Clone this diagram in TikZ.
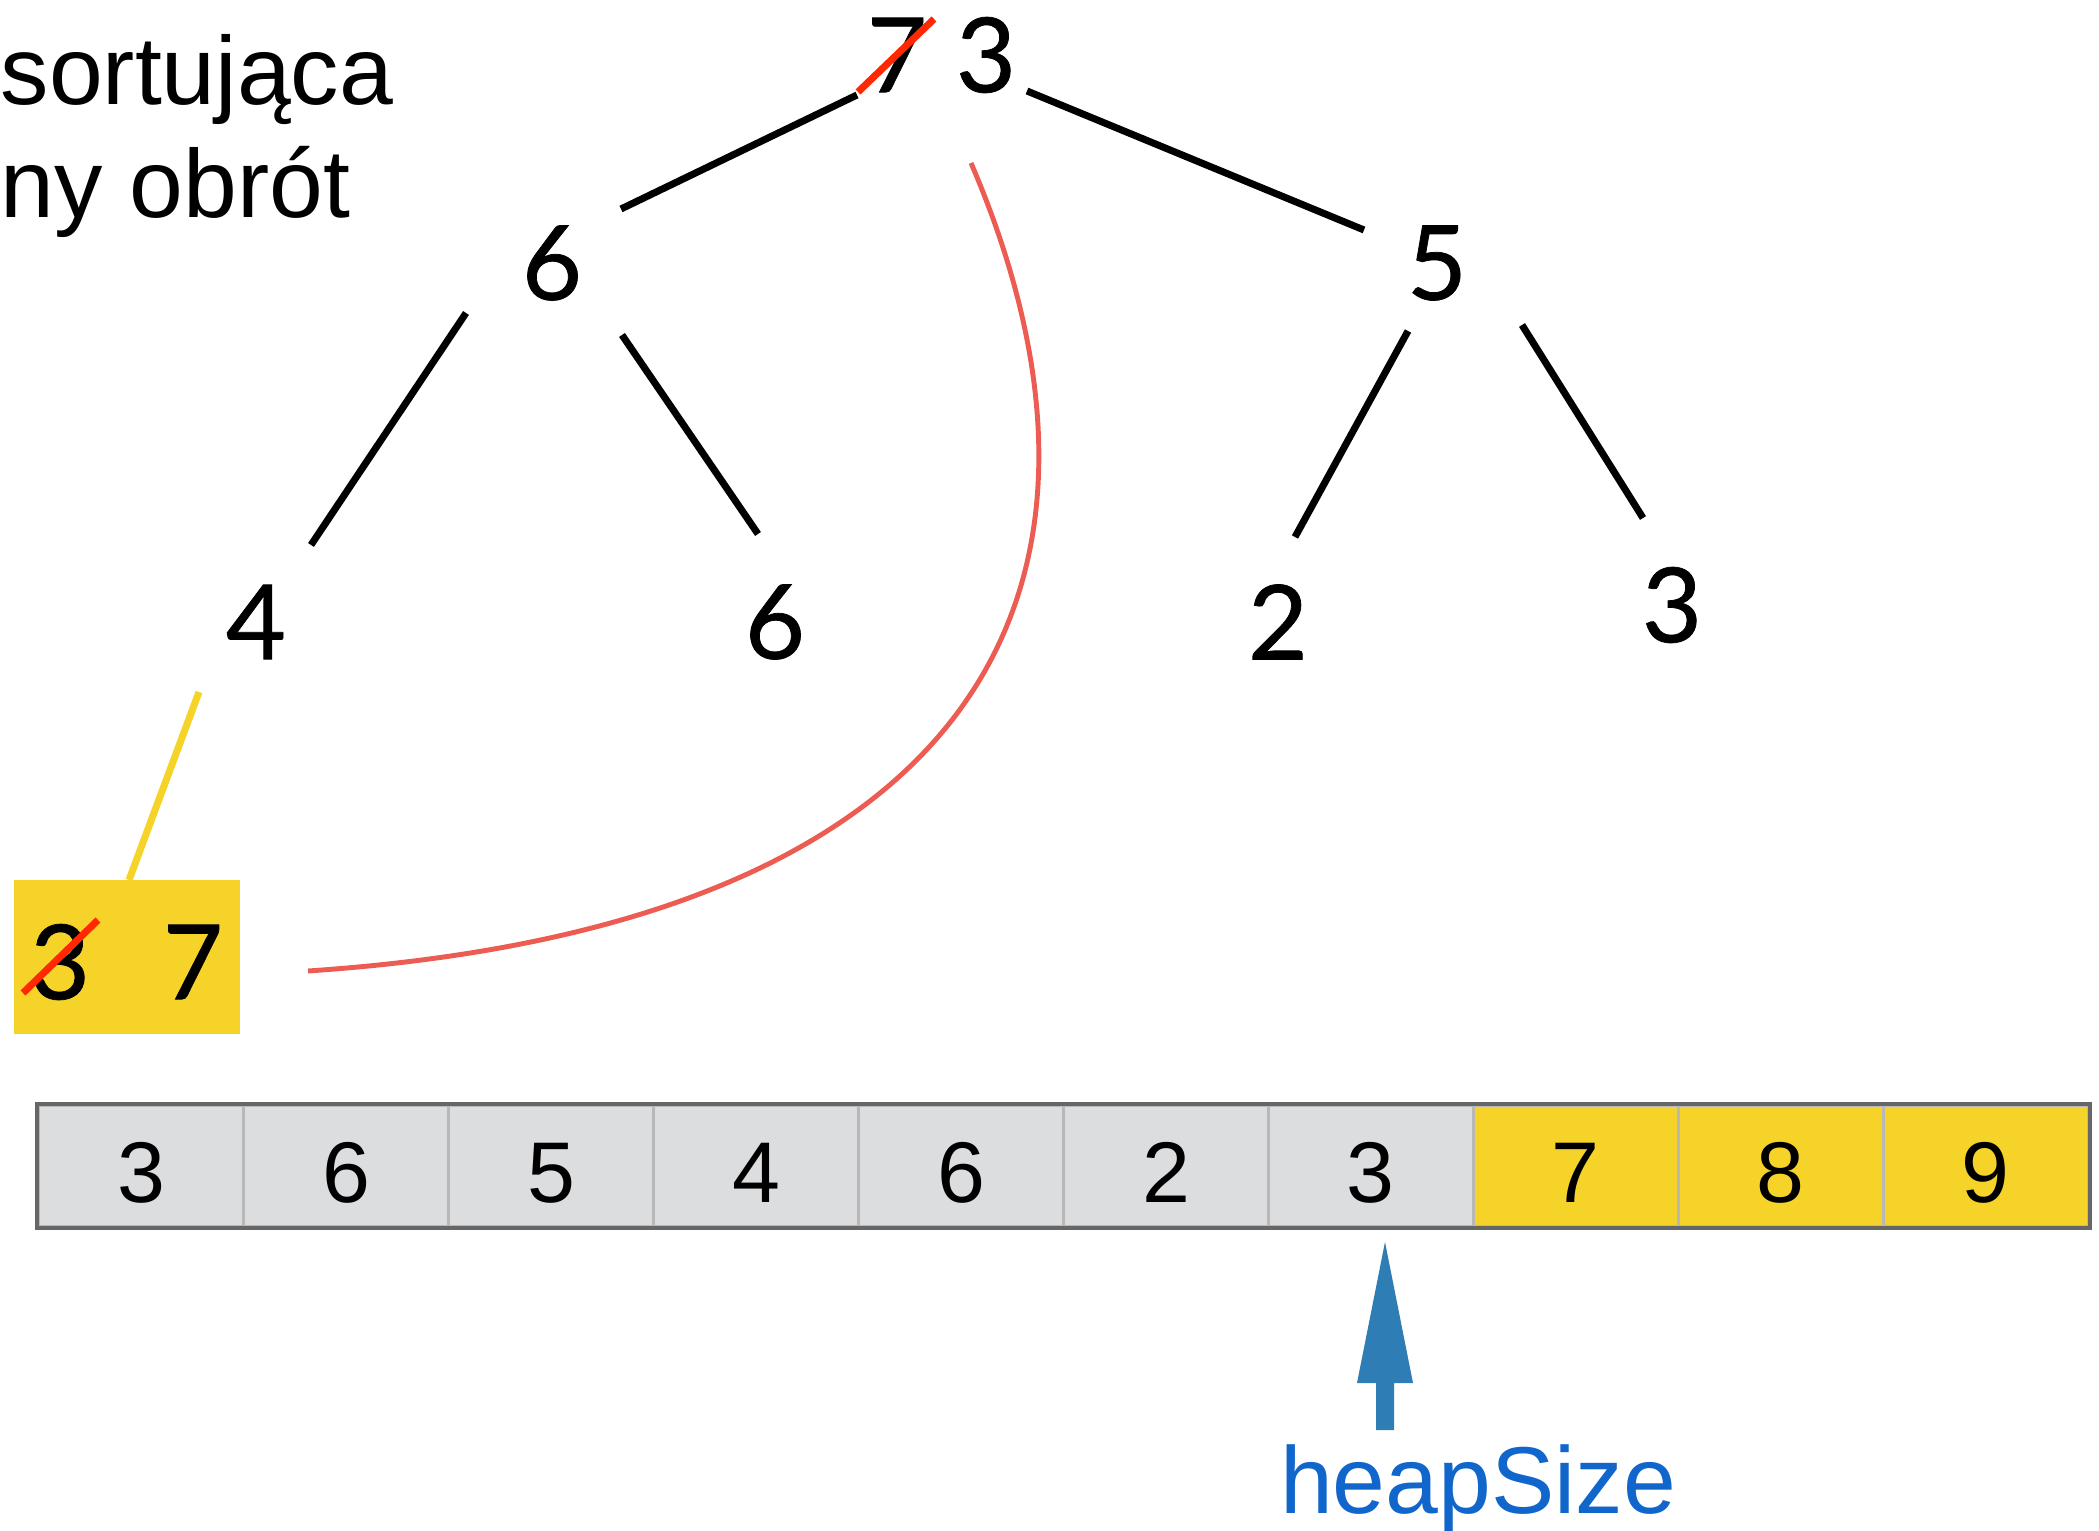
\documentclass[tikz,border=0pt]{standalone}
\usepackage{fontspec}
\setmainfont{Liberation Sans}
\newfontfamily\treefont{Lato}[FakeBold=0.7]
\definecolor{strike}{RGB}{255,40,0}
\definecolor{curvered}{RGB}{236,92,82}
\definecolor{hlyellow}{RGB}{245,211,40}
\definecolor{cellgrey}{RGB}{220,221,223}
\definecolor{sepgrey}{RGB}{184,184,184}
\definecolor{bordergrey}{RGB}{102,102,102}
\definecolor{arrowblue}{RGB}{46,125,181}
\definecolor{labelblue}{RGB}{17,102,204}
\tikzset{
  treenum/.style={inner sep=0pt, font=\treefont\fontsize{29.5}{34}\selectfont},
  treeedge/.style={line width=2pt, black},
  strikeline/.style={line width=2pt, strike},
  cell/.style={draw=sepgrey, line width=0.85pt, minimum width=2.049cm, minimum height=1.2cm, inner sep=0pt, text height=20.5pt, text depth=0pt, font=\fontsize{24.5}{28}\selectfont},
  greycell/.style={cell, fill=cellgrey},
  yellowcell/.style={cell, fill=hlyellow},
  titletext/.style={inner sep=0pt, anchor=base west, font=\fontsize{27.5}{32}\selectfont},
}
\begin{document}
\begin{tikzpicture}[x=0.01cm,y=-0.01cm]
\useasboundingbox (0,0) rectangle (2099,1531);
% title fragments
\node[titletext] (t1) at (0,105) {sortująca};
\node[titletext] (t2) at (0,218) {ny obrót};
% tree nodes
\node[treenum] (r7) at (897,55) {7};
\node[treenum] (r3) at (986,55) {3};
\node[treenum] (n6a) at (552,263) {6};
\node[treenum] (n5) at (1437,263) {5};
\node[treenum] (n4) at (256,622) {4};
\node[treenum] (n6b) at (775,622) {6};
\node[treenum] (n2) at (1278,622) {2};
\node[treenum] (n3) at (1672,605) {3};
% edge endpoints
\coordinate (e1a) at (857,95);   \coordinate (e1b) at (621,209);
\coordinate (e2a) at (1027,91);  \coordinate (e2b) at (1364,230);
\coordinate (e3a) at (466,313);  \coordinate (e3b) at (311,545);
\coordinate (e4a) at (622,335);  \coordinate (e4b) at (758,534);
\coordinate (e5a) at (1408,331); \coordinate (e5b) at (1295,537);
\coordinate (e6a) at (1522,325); \coordinate (e6b) at (1643,518);
\draw[treeedge] (e1a) -- (e1b);
\draw[treeedge] (e2a) -- (e2b);
\draw[treeedge] (e3a) -- (e3b);
\draw[treeedge] (e4a) -- (e4b);
\draw[treeedge] (e5a) -- (e5b);
\draw[treeedge] (e6a) -- (e6b);
% strike over root 7
\coordinate (s1a) at (858,92); \coordinate (s1b) at (934,19);
\draw[strikeline] (s1a) -- (s1b);
% yellow box
\node[fill=hlyellow, minimum width=2.26cm, minimum height=1.54cm, inner sep=0pt] (box) at (127,957) {};
\node[treenum] (b3) at (60,962) {3};
\node[treenum] (b7) at (193,962) {7};
\coordinate (s2a) at (23,993); \coordinate (s2b) at (98,920);
\draw[strikeline] (s2a) -- (s2b);
% yellow connector from node 4
\coordinate (y1) at (199,692);
\coordinate (y2) at (129,880);
\draw[line width=2pt, hlyellow] (y1) -- (y2);
% red curve
\coordinate (c1) at (971,163);
\coordinate (c2) at (308,971);
\draw[line width=1.4pt, curvered] (c1) .. controls (1150,580) and (990,925) .. (c2);
% array
\foreach \v [count=\i from 0] in {3,6,5,4,6,2,3} {
  \node[greycell] (a\i) at ({39+204.9*(\i+0.5)},1166) {\v};
}
\foreach \v [count=\i from 7] in {7,8,9} {
  \node[yellowcell] (a\i) at ({39+204.9*(\i+0.5)},1166) {\v};
}
\draw[bordergrey, line width=1.15pt] (a0.north west) rectangle (a9.south east);
% heapSize arrow
\coordinate (tip) at (1385,1242);
\fill[arrowblue] (tip) -- (1413,1383) -- (1394,1383) -- (1394,1430) -- (1376,1430) -- (1376,1383) -- (1357,1383) -- cycle;
\node[inner sep=0pt, anchor=base, text=labelblue, font=\fontsize{27}{31}\selectfont] (hs) at (1478,1513) {heapSize};
\end{tikzpicture}
\end{document}
